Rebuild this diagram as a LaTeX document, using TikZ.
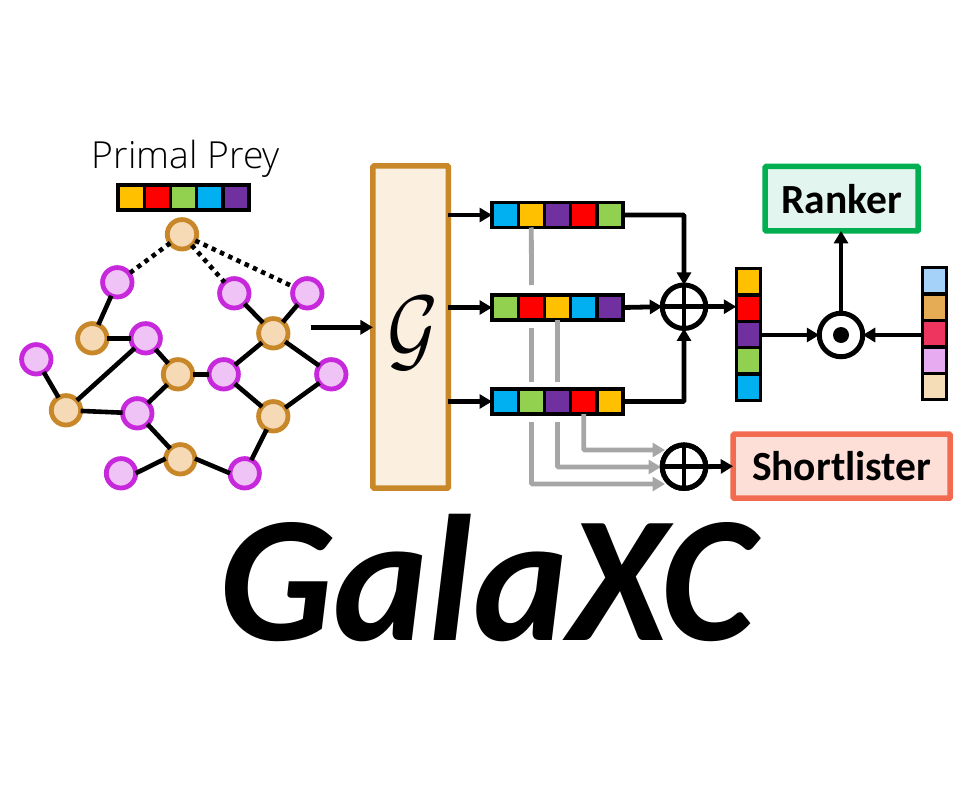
\documentclass[tikz,border=0pt]{standalone}
\usepackage{fontspec}
\usepackage{graphicx}
\setmainfont{Carlito}
\newfontfamily\lightfont{Open Sans Light}
\usetikzlibrary{arrows.meta}
\definecolor{cy}{HTML}{FFC000}
\definecolor{cr}{HTML}{FF0000}
\definecolor{cg}{HTML}{92D050}
\definecolor{cb}{HTML}{00B0F0}
\definecolor{cp}{HTML}{7030A0}
\definecolor{lb}{HTML}{A4D2F8}
\definecolor{lo}{HTML}{E6AC55}
\definecolor{lr}{HTML}{EE3560}
\definecolor{lp}{HTML}{E6ABF0}
\definecolor{lt}{HTML}{F5DDB8}
\definecolor{ordraw}{HTML}{C8882A}
\definecolor{orfill}{HTML}{F5DAB5}
\definecolor{pkdraw}{HTML}{C828DC}
\definecolor{pkfill}{HTML}{EFC3F5}
\definecolor{gfill}{HTML}{FBEFDF}
\definecolor{grn}{HTML}{00B050}
\definecolor{grnf}{HTML}{E2F5EE}
\definecolor{sal}{HTML}{F26B50}
\definecolor{salf}{HTML}{FDDFD8}
\definecolor{gry}{HTML}{A6A6A6}
\tikzset{
  ornode/.style={circle,draw=ordraw,fill=orfill,line width=4.8pt,minimum size=29.4pt,inner sep=0pt,outer sep=0pt},
  pknode/.style={circle,draw=pkdraw,fill=pkfill,line width=4.8pt,minimum size=29.4pt,inner sep=0pt,outer sep=0pt},
  edge/.style={draw=black,line width=4.6pt},
  dotedge/.style={draw=black,line width=4.6pt,dash pattern=on 4.5pt off 4.6pt},
  cell/.style={draw=black,line width=3.4pt,inner sep=0pt,outer sep=0pt},
  arr/.style={draw=black,line width=4.8pt,-{Triangle[length=12.5pt,width=14pt]}},
  garr/.style={draw=gry,line width=4.8pt,rounded corners=1pt,-{Triangle[length=12.5pt,width=14pt]}},
  gline/.style={draw=gry,line width=4.8pt},
  opcirc/.style={circle,draw=black,fill=white,line width=5pt,minimum size=43.5pt,inner sep=0pt,outer sep=0pt},
  labbox/.style={draw,line width=5.5pt,rounded corners=1pt,inner sep=0pt,outer sep=0pt,font=\bfseries\fontsize{41.5}{44}\selectfont},
}
\newcommand{\hcells}[4]{%
  \foreach \c [count=\i] in {#4} {
    \node[cell,fill=\c,minimum width=26.2pt,minimum height=25pt] (#1-\i) at ({#2+(\i-3)*26.2},#3) {};
  }}
\newcommand{\vcells}[4]{%
  \foreach \c [count=\i] in {#4} {
    \node[cell,fill=\c,minimum width=24.5pt,minimum height=26.4pt] (#1-\i) at (#2,{#3+(\i-3)*26.4}) {};
  }}
\begin{document}
\begin{tikzpicture}[x=1pt,y=-1pt]
\useasboundingbox (0,0) rectangle (971,794);
% title
\node[inner sep=0pt,font=\lightfont\fontsize{37.3}{40}\selectfont] (title) at (186,158.5) {Primal Prey};
\hcells{pb}{183.5}{197.5}{cy,cr,cg,cb,cp}
% graph
\node[ornode] (top) at (182,234.3) {};
\node[pknode] (p1) at (117.3,282.3) {};
\node[pknode] (p2) at (234.3,293.3) {};
\node[pknode] (p3) at (307.3,293.3) {};
\node[ornode] (o1) at (92.3,338.3) {};
\node[pknode] (p4) at (145.7,338.3) {};
\node[ornode] (o2) at (273.3,333.3) {};
\node[pknode] (p5) at (36.3,359.3) {};
\node[ornode] (o3) at (178,374.3) {};
\node[pknode] (p6) at (223.7,374.3) {};
\node[pknode] (p7) at (331.3,374.3) {};
\node[ornode] (o4) at (66,410.3) {};
\node[pknode] (p8) at (137.3,413.3) {};
\node[ornode] (o5) at (273.3,416.3) {};
\node[ornode] (o6) at (180.3,459.3) {};
\node[pknode] (p9) at (121,473.3) {};
\node[pknode] (p10) at (244.7,473.3) {};
\foreach \a/\b in {p1/o1,o1/p4,p4/o3,p4/o4,p5/o4,o4/p8,p8/o3,o3/p6,p6/o2,p2/o2,p3/o2,o2/p7,p6/o5,p7/o5,p8/o6,o5/p10}
  \draw[edge] (\a) -- (\b);
\draw[edge] (o6.177) -- (p9.0);
\draw[edge] (o6.3) -- (p10.180);
\foreach \b in {p1,p2,p3}
  \draw[dotedge] (top) -- (\b);
% encoder
\node[draw=ordraw,fill=gfill,line width=5.5pt,rounded corners=1pt,minimum width=75.5pt,minimum height=322pt,inner sep=0pt,outer sep=0pt] (enc) at (410.7,327) {};
\node[inner sep=0pt] (glyph) at (413.5,333) {\scalebox{7.8}[9.3]{$\mathcal{G}$}};
\coordinate (gout) at (310.7,327.3);
\draw[arr] (gout) -- (gout -| enc.west);
% rows
\hcells{ra}{557.5}{215}{cb,cy,cp,cr,cg}
\hcells{rb}{557.5}{307.5}{cg,cr,cy,cb,cp}
\hcells{rc}{557.5}{401.5}{cb,cg,cp,cr,cy}
\draw[arr] (enc.east |- ra-1.west) -- (ra-1.west);
\draw[arr] (enc.east |- rb-1.west) -- (rb-1.west);
\draw[arr] (enc.east |- rc-1.west) -- (rc-1.west);
% operators
\node[opcirc] (plusa) at (684,306.7) {};
\node[opcirc] (plusb) at (684,466.7) {};
\node[opcirc] (dot) at (841,335) {};
\fill[black] (841,335) circle (8pt);
\foreach \n in {plusa,plusb} {
  \draw[line width=4.6pt] (\n.north) -- (\n.south);
  \draw[line width=4.6pt] (\n.west) -- (\n.east);
}
\draw[arr,rounded corners=1pt] (ra-5.east) -| (plusa.north);
\draw[arr] (rb-5.east) -- (plusa.west);
\draw[arr,rounded corners=1pt] (rc-5.east) -| (plusa.south);
% gray links
\coordinate (g1) at (531.5,285);
\coordinate (g2) at (531.5,328);
\coordinate (g3) at (531.5,381.7);
\coordinate (g4) at (557.5,381.7);
\coordinate (g5) at (531.5,422);
\coordinate (g6) at (557.5,422);
\draw[gline] (ra-2.south) -- (g1);
\draw[gline] (g2) -- (g3);
\draw[gline] (rb-3.south) -- (g4);
\coordinate (t1) at (665,450);
\coordinate (t2) at (661,467);
\coordinate (t3) at (665,484);
\draw[garr] (rc-4.south) |- (t1);
\draw[garr] (g6) |- (t2);
\draw[garr] (g5) |- (t3);
\node[opcirc,fill=none] (plusc) at (684,466.7) {};
\draw[line width=4.6pt] (plusc.west) -- (plusc.east);
% output vectors
\vcells{va}{748.5}{334.5}{cy,cr,cp,cg,cb}
\vcells{vb}{934.5}{333.7}{lb,lo,lr,lp,lt}
\draw[arr] (plusa.east) -- (plusa.east -| va-2.west);
\draw[arr] (va-3.east |- dot.west) -- (dot.west);
\draw[arr] (vb-3.west |- dot.east) -- (dot.east);
% boxes
\node[labbox,draw=grn,fill=grnf,minimum width=153pt,minimum height=64.5pt] (rank) at (841.7,198.7) {Ranker};
\node[labbox,draw=sal,fill=salf,minimum width=217pt,minimum height=64pt] (short) at (841.7,466.2) {Shortlister};
\draw[arr] (dot.north) -- (rank.south -| dot.north);
\draw[arr] (plusb.east) -- (short.west);
% big title
\node[inner sep=0pt,font=\bfseries\itshape\fontsize{180}{182}\selectfont] (galaxc) at (487,578) {GalaXC};
\end{tikzpicture}
\end{document}
